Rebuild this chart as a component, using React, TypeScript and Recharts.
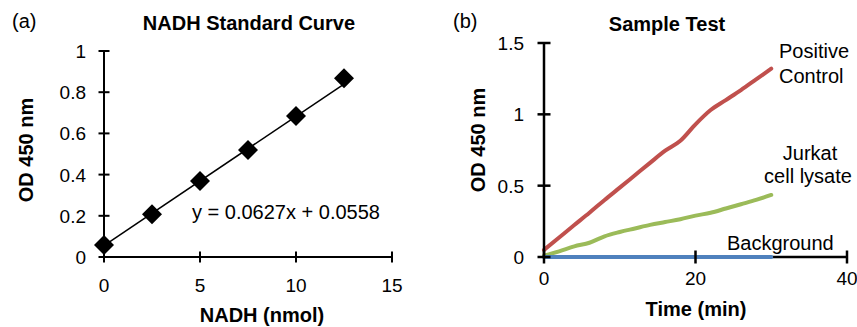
import React from "react";
import {
  ScatterChart,
  Scatter,
  LineChart,
  Line,
  XAxis,
  YAxis,
  ReferenceLine,
} from "recharts";

// (a) NADH standard curve
const nadhNmol = [0, 2.5, 5, 7.5, 10, 12.5];
const nadhOD = [0.058, 0.207, 0.369, 0.52, 0.685, 0.868];
const fitX = [0, 12.5];
const fitY = [0.0558, 0.8396];
const nadhTicksX = [0, 5, 10, 15];
const nadhTicksY = [0, 0.2, 0.4, 0.6, 0.8, 1];

// (b) sample test
const timeMin = [0, 2, 4, 6, 8, 10, 12, 14, 16, 18, 20, 22, 24, 26, 28, 30];
const positiveOD = [0.05, 0.137, 0.224, 0.31, 0.4, 0.486, 0.573, 0.66, 0.745, 0.815, 0.93, 1.03, 1.1, 1.17, 1.245, 1.32];
const jurkatOD = [0.01, 0.04, 0.075, 0.1, 0.145, 0.175, 0.2, 0.225, 0.245, 0.265, 0.29, 0.31, 0.34, 0.37, 0.4, 0.435];
const backgroundOD = [0, 0, 0, 0, 0, 0, 0, 0, 0, 0, 0, 0, 0, 0, 0, 0];
const timeTicks = [0, 20, 40];
const odTicks = [0, 0.5, 1, 1.5];

const font = '"Liberation Sans", Arial, sans-serif';

const standards = nadhNmol.map((x, i) => ({ x, y: nadhOD[i] }));
const fitSegment = fitX.map((x, i) => ({ x, y: fitY[i] }));
const kinetics = timeMin.map((t, i) => ({
  t,
  positive: positiveOD[i],
  jurkat: jurkatOD[i],
  background: backgroundOD[i],
}));

function yTick(axisX: number, labelX: number, half: number, sw: number) {
  return (p: any) => (
    <g>
      <line x1={axisX - half} x2={axisX + half} y1={p.y} y2={p.y} stroke="#000" strokeWidth={sw} />
      <text x={labelX} y={p.y + 7} textAnchor="end" fontFamily={font} fontSize={19} fill="#000">
        {String(p.payload.value)}
      </text>
    </g>
  );
}

function xTick(axisY: number, baseline: number, half: number, sw: number) {
  return (p: any) => (
    <g>
      <line x1={p.x} x2={p.x} y1={axisY - half} y2={axisY + half} stroke="#000" strokeWidth={sw} />
      <text x={p.x} y={baseline} textAnchor="middle" fontFamily={font} fontSize={19} fill="#000">
        {String(p.payload.value)}
      </text>
    </g>
  );
}

const Diamond = (p: any) => {
  const { cx, cy } = p;
  const r = 10;
  return <polygon points={`${cx},${cy - r} ${cx + r},${cy} ${cx},${cy + r} ${cx - r},${cy}`} fill="#000" />;
};

export default function App() {
  return (
    <div style={{ position: "absolute", left: 0, top: 0, width: 857, height: 327, background: "#fff" }}>
      <div style={{ position: "absolute", left: 0, top: 0 }}>
        <ScatterChart width={430} height={327} margin={{ top: 51, right: 38, bottom: 0, left: 0 }}>
          <XAxis
            type="number"
            dataKey="x"
            domain={[0, 15]}
            ticks={nadhTicksX}
            interval={0}
            height={70}
            axisLine={{ stroke: "#000", strokeWidth: 2 }}
            tickLine={false}
            tick={xTick(257, 292, 5.5, 2)}
          />
          <YAxis
            type="number"
            dataKey="y"
            domain={[0, 1]}
            ticks={nadhTicksY}
            interval={0}
            width={104}
            axisLine={{ stroke: "#000", strokeWidth: 2 }}
            tickLine={false}
            tick={yTick(104, 86, 5.5, 2)}
          />
          <ReferenceLine
            segment={fitSegment}
            stroke="#000"
            strokeWidth={1.5}
          />
          <Scatter data={standards} shape={Diamond} isAnimationActive={false} />
        </ScatterChart>
      </div>
      <div style={{ position: "absolute", left: 430, top: 0 }}>
        <LineChart width={427} height={327} data={kinetics} margin={{ top: 43, right: 10, bottom: 0, left: 0 }}>
          <XAxis
            type="number"
            dataKey="t"
            domain={[0, 40]}
            ticks={timeTicks}
            interval={0}
            height={70}
            axisLine={{ stroke: "#000", strokeWidth: 2.5 }}
            tickLine={false}
            tick={xTick(257, 285, 6.5, 2.5)}
          />
          <YAxis
            type="number"
            domain={[0, 1.5]}
            ticks={odTicks}
            interval={0}
            width={114}
            axisLine={{ stroke: "#000", strokeWidth: 2.5 }}
            tickLine={false}
            tick={yTick(114, 94, 6.5, 2.5)}
          />
          <Line type="monotone" dataKey="positive" stroke="#C0504D" strokeWidth={4} strokeLinecap="round" dot={false} isAnimationActive={false} />
          <Line type="monotone" dataKey="jurkat" stroke="#9BBB59" strokeWidth={4} strokeLinecap="round" dot={false} isAnimationActive={false} />
          <Line type="monotone" dataKey="background" stroke="#4F81BD" strokeWidth={4} strokeLinecap="round" dot={false} isAnimationActive={false} {...({ zIndex: 600 } as any)} />
        </LineChart>
      </div>
      <svg width={857} height={327} style={{ position: "absolute", left: 0, top: 0, pointerEvents: "none" }} fontFamily={font} fill="#000">
        <text x={12} y={28} fontSize={20}>(a)</text>
        <text x={249} y={30} fontSize={20} fontWeight="bold" textAnchor="middle">NADH Standard Curve</text>
        <text transform="translate(33,150) rotate(-90)" fontSize={20} fontWeight="bold" textAnchor="middle">OD 450 nm</text>
        <text x={262} y={322} fontSize={20} fontWeight="bold" textAnchor="middle">NADH (nmol)</text>
        <text x={192} y={219} fontSize={20}>y = 0.0627x + 0.0558</text>

        <text x={453} y={28} fontSize={20}>(b)</text>
        <text x={667} y={31} fontSize={20} fontWeight="bold" textAnchor="middle">Sample Test</text>
        <text transform="translate(485,140) rotate(-90)" fontSize={20} fontWeight="bold" textAnchor="middle">OD 450 nm</text>
        <text x={696} y={316} fontSize={20} fontWeight="bold" textAnchor="middle">Time (min)</text>
        <text x={779} y={58} fontSize={20}>Positive</text>
        <text x={779} y={83} fontSize={20}>Control</text>
        <text x={810} y={160} fontSize={20} textAnchor="middle">Jurkat</text>
        <text x={808} y={183} fontSize={20} textAnchor="middle">cell lysate</text>
        <text x={727} y={250} fontSize={20}>Background</text>
      </svg>
    </div>
  );
}
